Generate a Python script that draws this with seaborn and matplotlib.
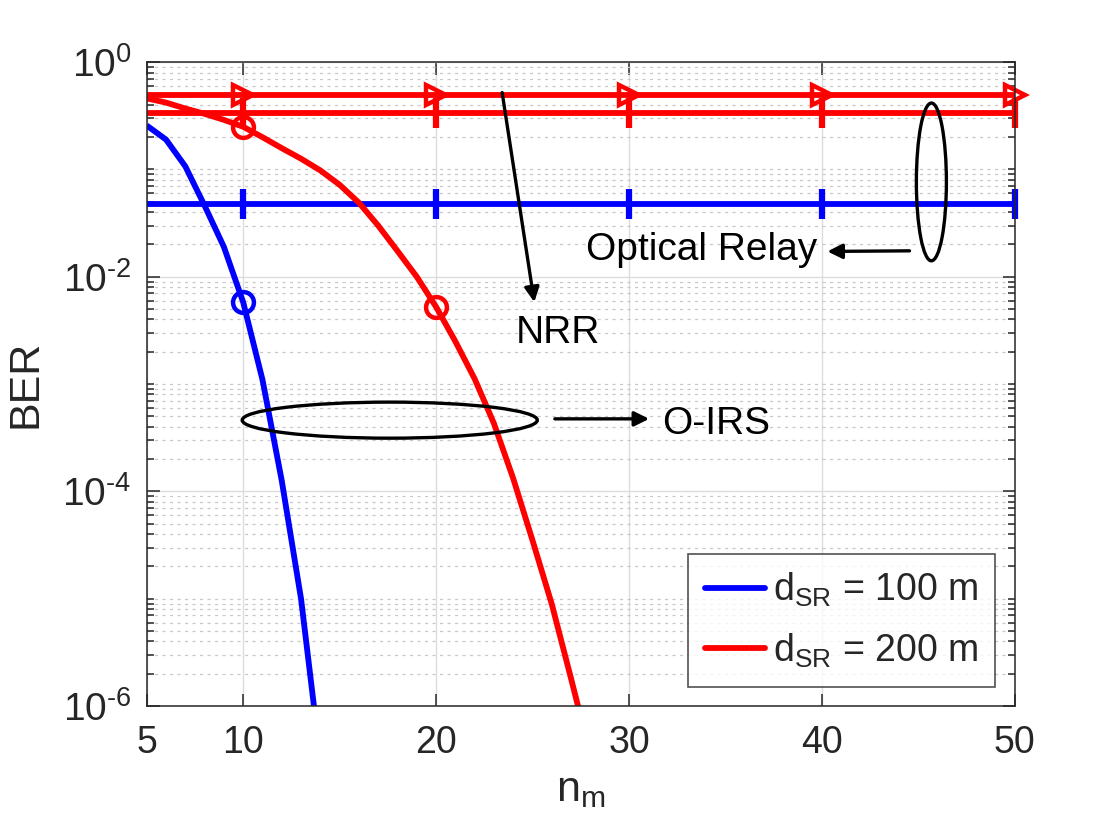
import matplotlib
matplotlib.use("Agg")
import matplotlib.pyplot as plt
import seaborn as sns
import numpy as np
from matplotlib.lines import Line2D
from matplotlib.patches import Ellipse
from matplotlib.ticker import FixedLocator, FuncFormatter, NullFormatter

# data
n_all = list(range(5, 51))
nrr_200 = [0.49] * len(n_all)
relay_200 = [0.333] * len(n_all)
relay_100 = [0.0475] * len(n_all)

n_irs_100 = list(range(5, 15))
irs_100 = [2.57e-1, 1.9e-1, 1.07e-1, 4.6e-2, 1.9e-2, 5.8e-3, 1.1e-3, 1.26e-4, 1.0e-5, 3.2e-7]

n_irs_200 = list(range(5, 29))
irs_200 = [4.6e-1, 4.2e-1, 3.7e-1, 3.3e-1, 2.9e-1, 2.5e-1, 2.0e-1, 1.58e-1,
           1.26e-1, 9.8e-2, 7.2e-2, 4.9e-2, 3.0e-2, 1.74e-2, 1.0e-2, 5.25e-3,
           2.5e-3, 1.12e-3, 4.3e-4, 1.32e-4, 3.5e-5, 8.9e-6, 1.8e-6, 3.5e-7]

legend_labels = [r'd$_{\mathrm{SR}}$ = 100 m', r'd$_{\mathrm{SR}}$ = 200 m']

sns.set_style("ticks")
plt.rcParams['font.family'] = ['Liberation Sans', 'DejaVu Sans']
plt.rcParams['mathtext.fontset'] = 'custom'
plt.rcParams['mathtext.rm'] = 'Liberation Sans'
plt.rcParams['mathtext.it'] = 'Liberation Sans:italic'
plt.rcParams['mathtext.bf'] = 'Liberation Sans:bold'

fig = plt.figure(figsize=(11.2, 8.4), dpi=100)
ax = fig.add_axes([0.131, 0.1595, 0.775, 0.7665])

lw = 4.2
every10 = list(range(5, 46, 10))


def mk(c, size=15, mew=3.2):
    return dict(markersize=size, markeredgewidth=mew, markerfacecolor='none',
                markeredgecolor=c, solid_capstyle='butt')


# horizontal lines; '|' gives the plus look since the line hides the other arm
sns.lineplot(x=n_all, y=nrr_200, ax=ax, color='red', lw=lw, marker='>',
             markevery=every10, legend=False, clip_on=False, **mk('red'))
sns.lineplot(x=n_all, y=relay_200, ax=ax, color='red', lw=lw, marker='|',
             markevery=every10, legend=False, clip_on=False, **mk('red', 22, 4.5))
sns.lineplot(x=n_all, y=relay_100, ax=ax, color='blue', lw=lw, marker='|',
             markevery=every10, legend=False, clip_on=False, **mk('blue', 22, 4.5))
sns.lineplot(x=n_irs_100, y=irs_100, ax=ax, color='blue', lw=lw, marker='o',
             markevery=[5], legend=False, **mk('blue'))
sns.lineplot(x=n_irs_200, y=irs_200, ax=ax, color='red', lw=lw, marker='o',
             markevery=[5, 15], legend=False, **mk('red'))

ax.set_yscale('log')
ax.set_xlim(5, 50)
ax.set_ylim(1e-6, 1)

ax.set_xticks([5, 10, 20, 30, 40, 50])
ax.yaxis.set_major_locator(FixedLocator([1e-6, 1e-4, 1e-2, 1e0]))


def pow_label(v, pos):
    e = int(round(np.log10(v)))
    if e < 0:
        return r'$\mathdefault{10^{\text{-}%d}}$' % (-e)
    return r'$\mathdefault{10^{%d}}$' % e


ax.yaxis.set_major_formatter(FuncFormatter(pow_label))
minor = [k * 10.0 ** d for d in range(-6, 0) for k in range(1, 10)
         if not (k == 1 and d % 2 == 0)]
ax.yaxis.set_minor_locator(FixedLocator(minor))
ax.yaxis.set_minor_formatter(NullFormatter())

ax.grid(True, which='major', color='#dcdcdc', lw=1.0, ls='-')
ax.grid(True, which='minor', axis='y', color='#c8c8c8', lw=0.9, ls=(0, (2.5, 3.5)))
ax.set_axisbelow(True)

ax.tick_params(which='both', direction='in', top=True, right=True,
               colors='#262626', labelsize=27, width=1.1)
ax.tick_params(which='major', length=9)
ax.tick_params(which='minor', length=5)
ax.tick_params(axis='x', pad=14)
ax.tick_params(axis='y', pad=11, labelsize=28)
for s in ax.spines.values():
    s.set_color('#262626')
    s.set_linewidth(1.1)

ax.set_xlabel(r'n$_{\mathrm{m}}$', fontsize=31, color='#262626', labelpad=6)
ax.set_ylabel('BER', fontsize=31, color='#262626', labelpad=12)

handles = [Line2D([0], [0], color='blue', lw=lw), Line2D([0], [0], color='red', lw=lw)]
leg = ax.legend(handles, legend_labels, loc='lower right', fontsize=27,
                bbox_to_anchor=(0.977, 0.03), frameon=True, fancybox=False,
                edgecolor='#262626', handlelength=1.6, handletextpad=0.2,
                borderpad=0.45, labelspacing=0.6, borderaxespad=0)
leg.get_frame().set_linewidth(1.2)

# annotations
ax.add_patch(Ellipse((0.280, 0.444), 0.340, 0.056, transform=ax.transAxes,
                     fill=False, ec='black', lw=2.4, zorder=5))
ax.add_patch(Ellipse((0.904, 0.814), 0.0346, 0.245, transform=ax.transAxes,
                     fill=False, ec='black', lw=2.4, zorder=5))

arrow = dict(arrowstyle='-|>', color='black', lw=2.4, mutation_scale=22)
ax.annotate('', xy=(0.582, 0.446), xytext=(0.467, 0.446), xycoords='axes fraction',
            arrowprops=arrow)
ax.text(0.594, 0.438, 'O-IRS', transform=ax.transAxes, fontsize=28,
        va='center', ha='left', color='black')
ax.annotate('', xy=(0.781, 0.706), xytext=(0.882, 0.707), xycoords='axes fraction',
            arrowprops=arrow)
ax.text(0.773, 0.708, 'Optical Relay', transform=ax.transAxes, fontsize=28,
        va='center', ha='right', color='black')
ax.annotate('', xy=(0.447, 0.623), xytext=(0.409, 0.957), xycoords='axes fraction',
            arrowprops=arrow)
ax.text(0.425, 0.579, 'NRR', transform=ax.transAxes, fontsize=28,
        va='center', ha='left', color='black')

fig.savefig('out.png', dpi=100)
